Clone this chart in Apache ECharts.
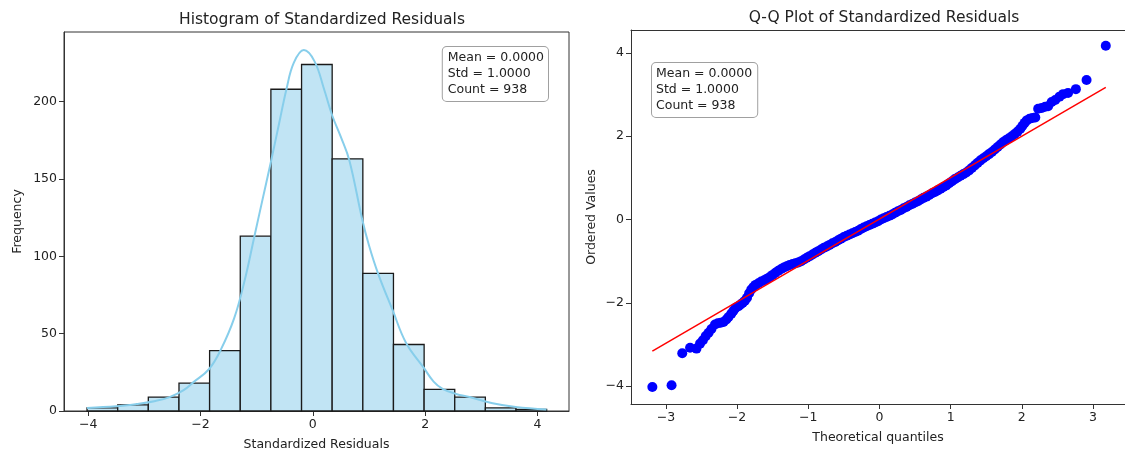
<!DOCTYPE html>
<html lang="en">
<head>
    <meta charset="UTF-8">
    <title>Standardized Residuals</title>
    <script src="https://cdn.jsdelivr.net/npm/echarts@6/dist/echarts.min.js"></script>
</head>
<body style="margin:0">
<div id="main" style="width:1125px;height:456px"></div>
<script>
    // histogram: bin edges and counts
    var binEdges = [-4.02, -3.474, -2.929, -2.383, -1.838, -1.292, -0.747, -0.201,
        0.344, 0.89, 1.435, 1.981, 2.526, 3.071, 3.617, 4.162];
    var binCounts = [2, 4, 9, 18, 39, 113, 208, 224, 163, 89, 43, 14, 9, 2, 1];

    // kde curve [x, density*count]
    var kdeCurve = [
        [-4.02, 2], [-3.5, 3], [-3.14, 4.5], [-2.8, 6.5], [-2.55, 9], [-2.3, 13.5], [-2.13, 18.5],
        [-1.85, 27], [-1.64, 39.5], [-1.4, 60], [-1.21, 85], [-1.04, 113], [-0.9, 136],
        [-0.753, 160], [-0.6, 186], [-0.47, 208], [-0.34, 225], [-0.16, 233.3], [0.03, 226],
        [0.2, 208], [0.345, 191], [0.5, 177], [0.65, 162], [0.878, 124], [1.0, 107], [1.16, 89],
        [1.422, 65], [1.66, 44], [1.973, 28], [2.15, 19], [2.31, 14.3], [2.55, 11],
        [2.79, 9], [3.2, 5], [3.61, 2.6], [4.16, 1]
    ];

    // q-q plot: [theoretical quantile, ordered value]
    var qqPoints = [
        [-3.19, -4.02], [-2.92, -3.98], [-2.77, -3.21], [-2.66, -3.08], [-2.57, -3.10],
        [-2.52, -2.98], [-2.48, -2.90], [-2.44, -2.80], [-2.40, -2.72], [-2.36, -2.63],
        [-2.31, -2.52], [-2.27, -2.49], [-2.23, -2.48], [-2.19, -2.46], [-2.15, -2.40],
        [-2.12, -2.34], [-2.08, -2.26], [-2.05, -2.19], [-2.02, -2.12], [-1.98, -2.08],
        [-1.95, -2.04], [-1.92, -2.00], [-1.89, -1.95], [-1.86, -1.88], [-1.83, -1.77],
        [-1.80, -1.68], [-1.77, -1.62], [-1.74, -1.57], [-1.70, -1.53], [-1.66, -1.49],
        [-1.62, -1.46], [-1.58, -1.42], [-1.54, -1.38], [-1.50, -1.33], [-1.46, -1.28],
        [-1.42, -1.23], [-1.38, -1.19], [-1.34, -1.15], [-1.30, -1.12], [-1.26, -1.09],
        [-1.22, -1.07], [-1.18, -1.05], [-1.14, -1.03], [-1.10, -1.00], [-1.06, -0.96],
        [-1.02, -0.92], [-0.98, -0.88], [-0.94, -0.84], [-0.90, -0.80], [-0.86, -0.76],
        [-0.82, -0.72], [-0.78, -0.68], [-0.74, -0.65], [-0.70, -0.61], [-0.66, -0.57],
        [-0.62, -0.54], [-0.58, -0.50], [-0.54, -0.46], [-0.50, -0.42], [-0.46, -0.39],
        [-0.42, -0.36], [-0.38, -0.33], [-0.34, -0.30], [-0.30, -0.27], [-0.26, -0.23],
        [-0.22, -0.19], [-0.18, -0.16], [-0.14, -0.13], [-0.10, -0.10], [-0.06, -0.07],
        [-0.02, -0.04], [0.02, 0.00], [0.06, 0.03], [0.10, 0.06], [0.14, 0.09],
        [0.18, 0.12], [0.22, 0.16], [0.26, 0.20], [0.30, 0.23], [0.34, 0.27],
        [0.38, 0.30], [0.42, 0.34], [0.46, 0.37], [0.50, 0.41], [0.54, 0.44],
        [0.58, 0.48], [0.62, 0.52], [0.66, 0.55], [0.70, 0.59], [0.74, 0.63],
        [0.78, 0.66], [0.82, 0.70], [0.86, 0.74], [0.90, 0.78], [0.94, 0.82],
        [0.98, 0.87], [1.02, 0.92], [1.06, 0.97], [1.10, 1.01], [1.14, 1.05],
        [1.18, 1.09], [1.22, 1.13], [1.26, 1.18], [1.30, 1.24], [1.34, 1.30],
        [1.38, 1.36], [1.42, 1.42], [1.46, 1.47], [1.50, 1.52], [1.54, 1.57],
        [1.58, 1.62], [1.62, 1.68], [1.66, 1.74], [1.70, 1.80], [1.74, 1.86],
        [1.78, 1.91], [1.82, 1.95], [1.86, 2.00], [1.90, 2.05], [1.94, 2.11],
        [1.98, 2.18], [2.01, 2.25], [2.04, 2.32], [2.07, 2.38], [2.11, 2.42],
        [2.15, 2.44], [2.19, 2.45], [2.23, 2.66], [2.28, 2.68], [2.33, 2.71],
        [2.37, 2.72], [2.42, 2.82], [2.47, 2.87], [2.53, 2.95], [2.58, 3.01],
        [2.65, 3.04], [2.76, 3.13], [2.91, 3.35], [3.18, 4.17]
    ];
    // red reference line ends
    var fitLine = [[-3.19, -3.16], [3.18, 3.17]];

    var histTicks = [-4, -2, 0, 2, 4];
    var freqTicks = [0, 50, 100, 150, 200];
    var qqXTicks = [-3, -2, -1, 0, 1, 2, 3];
    var qqYTicks = [-4, -2, 0, 2, 4];

    var statMean = '0.0000', statStd = '1.0000';

    var font = 'DejaVu Sans';
    var count = 0;
    for (var i = 0; i < binCounts.length; i++) count += binCounts[i];
    var statText = 'Mean = ' + statMean + '\nStd = ' + statStd + '\nCount = ' + count;

    var binData = [];
    for (var i = 0; i < binCounts.length; i++) {
        binData.push([binEdges[i], binEdges[i + 1], binCounts[i]]);
    }

    function minus(v) {
        return String(v).replace('-', '\u2212');
    }

    function axisBase(ticks) {
        return {
            axisLine: {show: true, onZero: false, lineStyle: {color: '#333', width: 1}},
            axisTick: {show: true, length: 5, lineStyle: {color: '#333'}, customValues: ticks},
            axisLabel: {color: '#222', fontFamily: font, fontSize: 12.5, margin: 7,
                customValues: ticks, formatter: minus},
            splitLine: {show: false},
            nameTextStyle: {color: '#222', fontFamily: font, fontSize: 12.5}
        };
    }

    function merge(a, b) {
        for (var k in b) a[k] = b[k];
        return a;
    }

    var myChart = echarts.init(document.getElementById('main'));

    var option = {
        backgroundColor: '#fff',
        animation: false,
        title: [
            {text: 'Histogram of Standardized Residuals', left: 317, top: 7, textAlign: 'center',
                textStyle: {fontFamily: font, fontSize: 15.5, fontWeight: 'normal', color: '#222'}},
            {text: 'Q-Q Plot of Standardized Residuals', left: 879, top: 5, textAlign: 'center',
                textStyle: {fontFamily: font, fontSize: 15.5, fontWeight: 'normal', color: '#222'}}
        ],
        grid: [
            {left: 64, top: 32, width: 505, height: 380, show: true, borderColor: '#333', borderWidth: 1},
            // right spine of the q-q panel is cut off by the image edge
            {left: 631, top: 30, right: 0, height: 374}
        ],
        xAxis: [
            merge(axisBase(histTicks), {type: 'value', gridIndex: 0, min: -4.43, max: 4.56,
                name: 'Standardized Residuals', nameLocation: 'middle', nameGap: 27}),
            merge(axisBase(qqXTicks), {type: 'value', gridIndex: 1, min: -3.49, max: 3.45,
                name: 'Theoretical quantiles', nameLocation: 'middle', nameGap: 27}),
            {type: 'value', gridIndex: 1, position: 'top', min: -3.49, max: 3.45,
                axisLine: {show: true, onZero: false, lineStyle: {color: '#333', width: 1}},
                axisTick: {show: false}, axisLabel: {show: false}, splitLine: {show: false}}
        ],
        yAxis: [
            merge(axisBase(freqTicks), {type: 'value', gridIndex: 0, min: 0, max: 245,
                name: 'Frequency', nameLocation: 'middle', nameGap: 40}),
            merge(axisBase(qqYTicks), {type: 'value', gridIndex: 1, min: -4.43, max: 4.55,
                name: 'Ordered Values', nameLocation: 'middle', nameGap: 33})
        ],
        series: [
            {
                type: 'custom',
                xAxisIndex: 0, yAxisIndex: 0,
                encode: {x: [0, 1], y: 2},
                data: binData,
                z: 2,
                renderItem: function(params, api) {
                    var p0 = api.coord([api.value(0), api.value(2)]);
                    var p1 = api.coord([api.value(1), 0]);
                    return {
                        type: 'rect',
                        shape: {x: p0[0], y: p0[1], width: p1[0] - p0[0], height: p1[1] - p0[1]},
                        style: {fill: '#c1e4f4', stroke: '#1a1a1a', lineWidth: 1.3}
                    };
                }
            },
            {
                type: 'line',
                xAxisIndex: 0, yAxisIndex: 0,
                data: kdeCurve,
                smooth: 0.4,
                showSymbol: false,
                z: 3,
                lineStyle: {color: '#87ceeb', width: 2}
            },
            {
                type: 'scatter',
                xAxisIndex: 1, yAxisIndex: 1,
                data: qqPoints,
                symbolSize: 10,
                itemStyle: {color: '#0000ff', opacity: 1},
                z: 2
            },
            {
                type: 'line',
                xAxisIndex: 1, yAxisIndex: 1,
                data: fitLine,
                showSymbol: false,
                lineStyle: {color: '#ff0000', width: 1.5},
                z: 3
            }
        ],
        graphic: [
            {
                type: 'text', right: 576, top: 46, z: 100,
                style: {text: statText, align: 'right', font: '12.5px "DejaVu Sans"', lineHeight: 16,
                    fill: '#222', backgroundColor: '#fff', borderColor: '#a0a0a0', borderWidth: 1,
                    borderRadius: 4, padding: [3, 4, 3, 5]}
            },
            {
                type: 'text', left: 651, top: 62, z: 100,
                style: {text: statText, align: 'left', font: '12.5px "DejaVu Sans"', lineHeight: 16,
                    fill: '#222', backgroundColor: '#fff', borderColor: '#a0a0a0', borderWidth: 1,
                    borderRadius: 4, padding: [3, 5, 3, 4]}
            }
        ]
    };

    myChart.setOption(option);
</script>
</body>
</html>
